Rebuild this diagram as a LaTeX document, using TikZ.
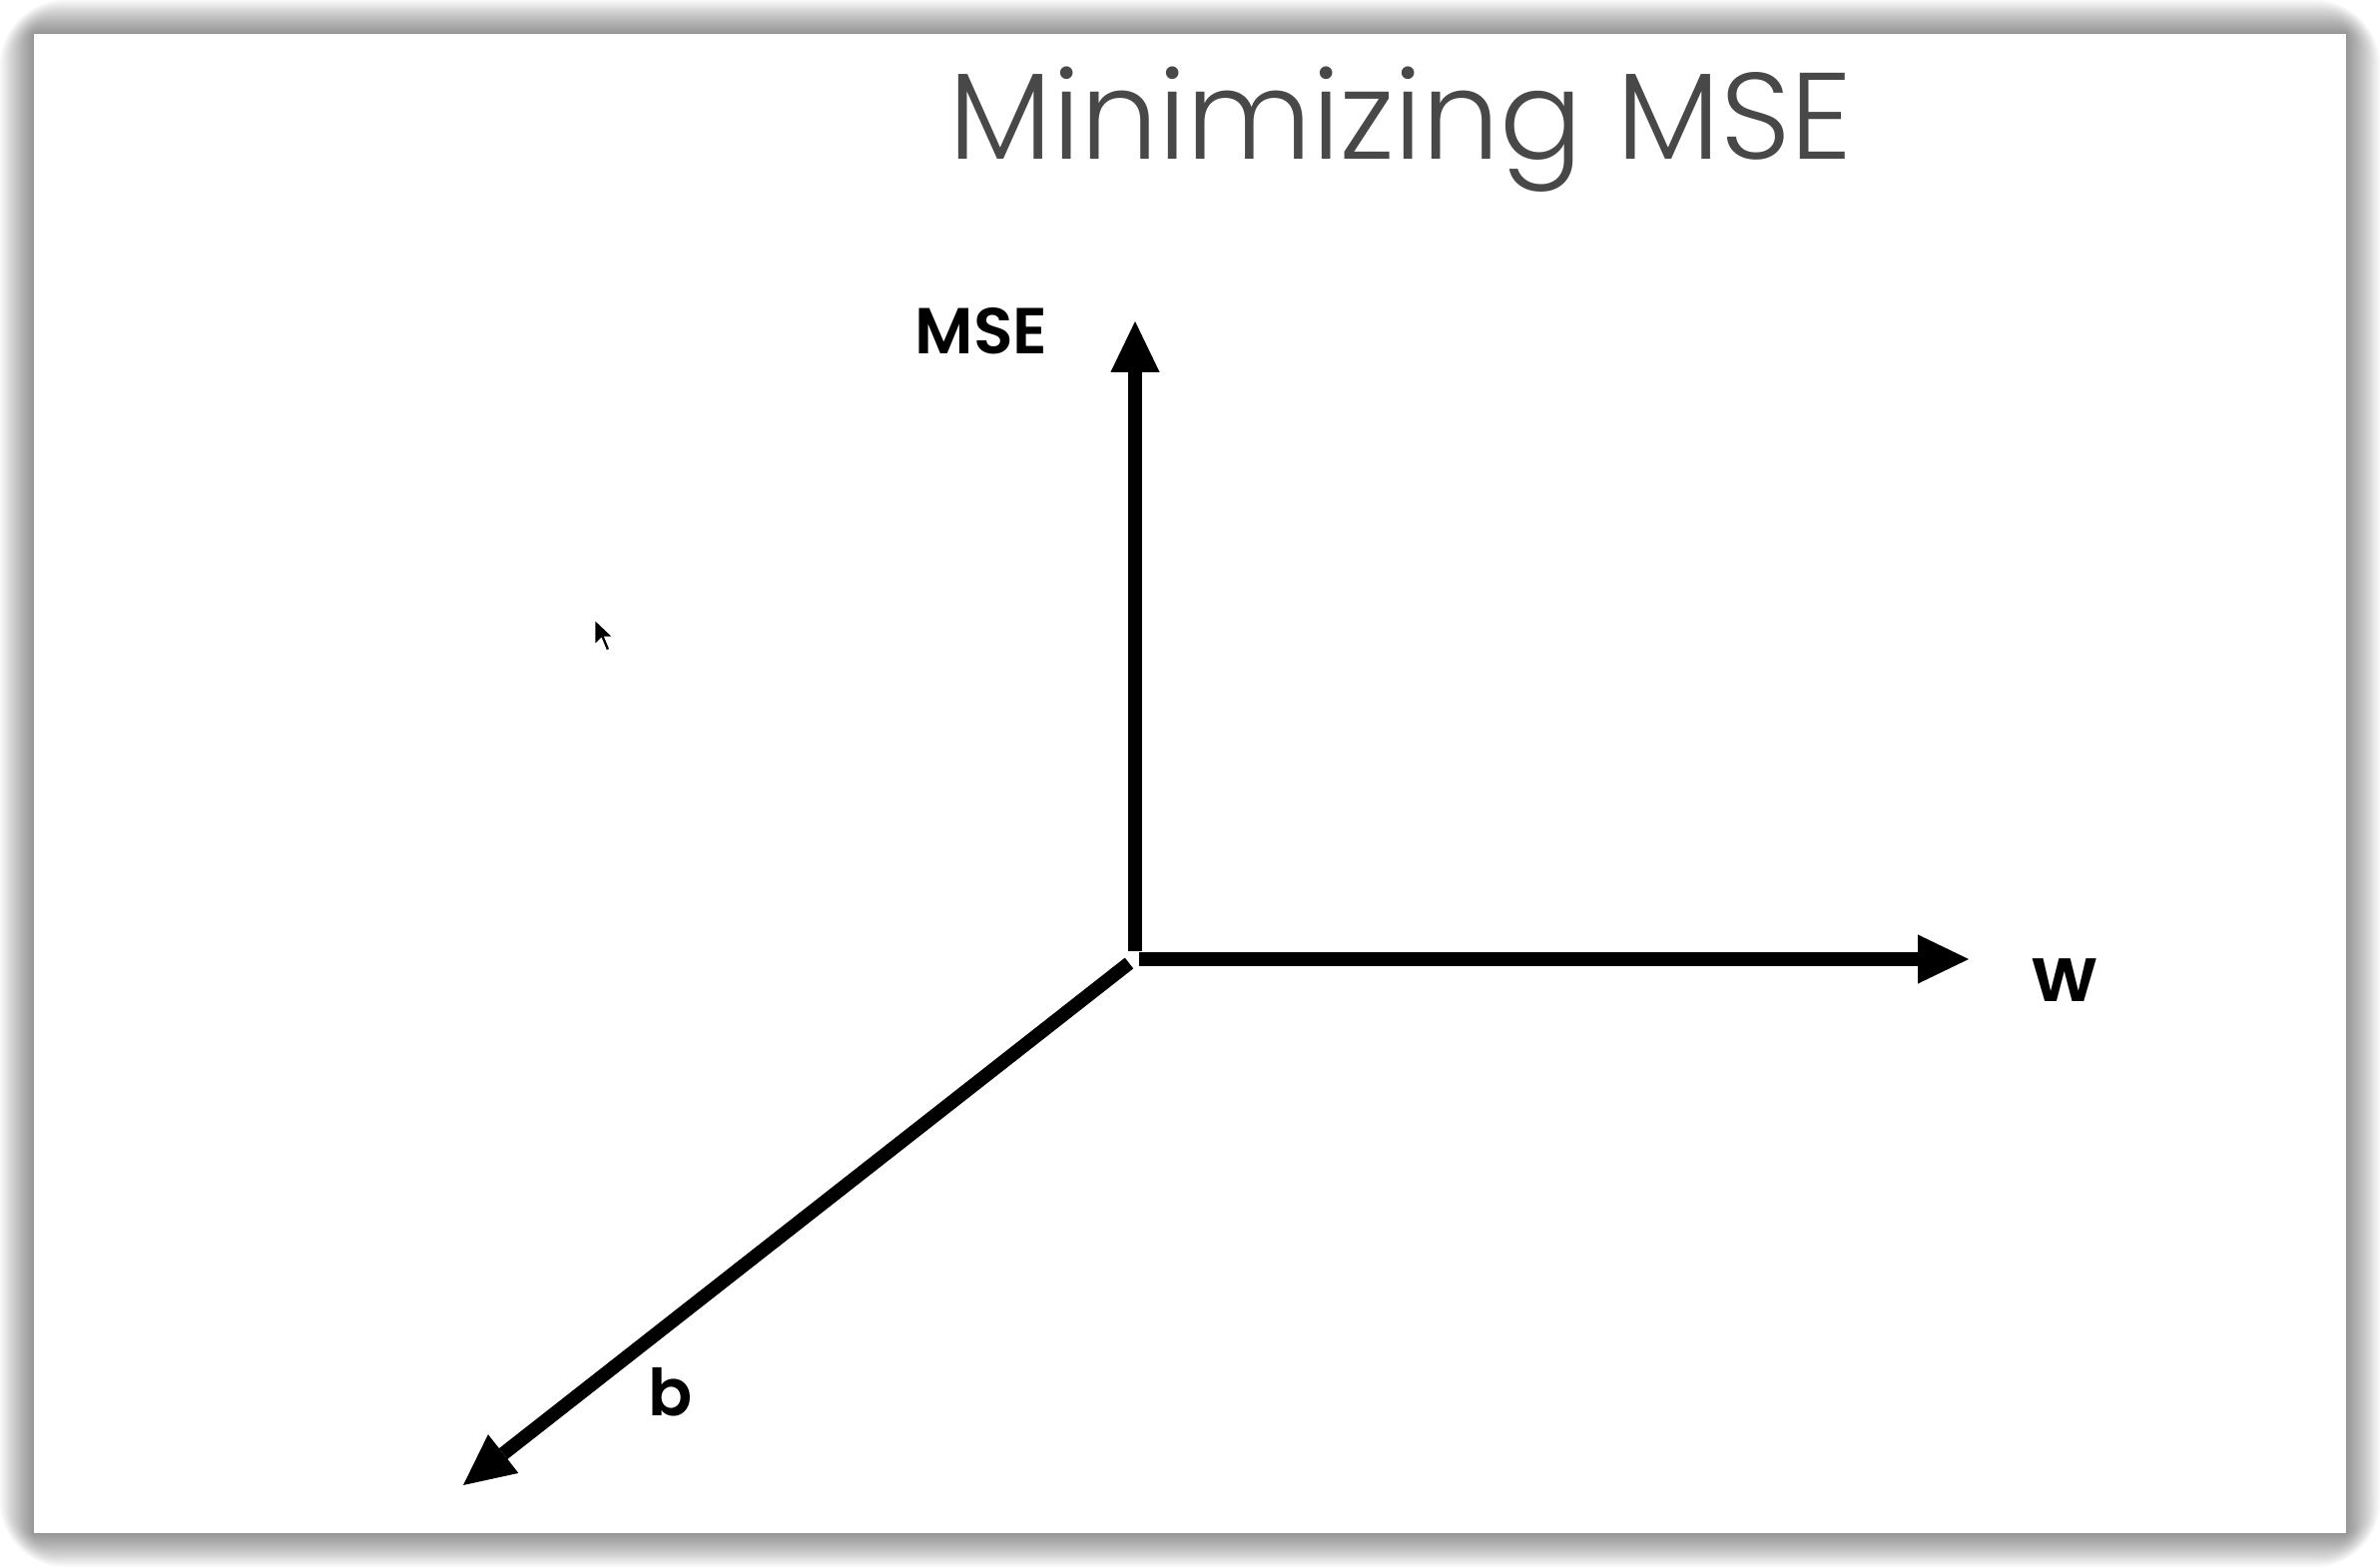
\documentclass[tikz,border=0pt]{standalone}
\usepackage{fontspec}
\newfontfamily\titlefont{Poppins Light}
\newfontfamily\labelfont{Poppins SemiBold}
\usetikzlibrary{arrows.meta}
\definecolor{titlegray}{RGB}{72,72,72}

\begin{document}
\begin{tikzpicture}[x=0.01cm, y=-0.01cm,
  axis/.style={-{Triangle[width=14pt, length=14.5pt, line width=0pt]}, line width=3.9pt},
  lbl/.style={inner sep=0pt, anchor=base, font=\labelfont\fontsize{18.5}{20}\selectfont}]
  \useasboundingbox (0,0) rectangle (2384,1570);
  \fill[white] (0,0) rectangle (2384,1570);
  % slide shadow
  \foreach \i in {1,...,17}
    \fill[black, opacity=0.028, rounded corners=1.1*\i] (34-2*\i,34-2*\i) rectangle (2350+2*\i,1536+2*\i);
  \fill[white] (34,34) rectangle (2350,1536);
  % title
  \node[inner sep=0pt, anchor=base, text=titlegray, font=\titlefont\fontsize{35}{40}\selectfont] (title) at (1403,160) {Minimizing MSE};
  % axes
  \coordinate (overt) at (1137,953);
  \coordinate (ohorz) at (1141,961);
  \coordinate (odiag) at (1131,965);
  \coordinate (msetip) at (1137,322);
  \coordinate (wtip) at (1972,961);
  \coordinate (btip) at (464,1488);
  \draw[axis] (overt) -- (msetip);
  \draw[axis] (ohorz) -- (wtip);
  \draw[axis] (odiag) -- (btip);
  \node[lbl] (mselabel) at (983,355) {MSE};
  \node[lbl, font=\labelfont\fontsize{22}{24}\selectfont] (wlabel) at (2068,1003) {w};
  \node[lbl] (blabel) at (672,1418) {b};
  % mouse pointer
  \filldraw[fill=black, draw=white, line width=0.8pt] (595,619) -- (595,648) -- (602,641) -- (607,653) -- (612,651) -- (607,639) -- (616,639) -- cycle;
\end{tikzpicture}
\end{document}
